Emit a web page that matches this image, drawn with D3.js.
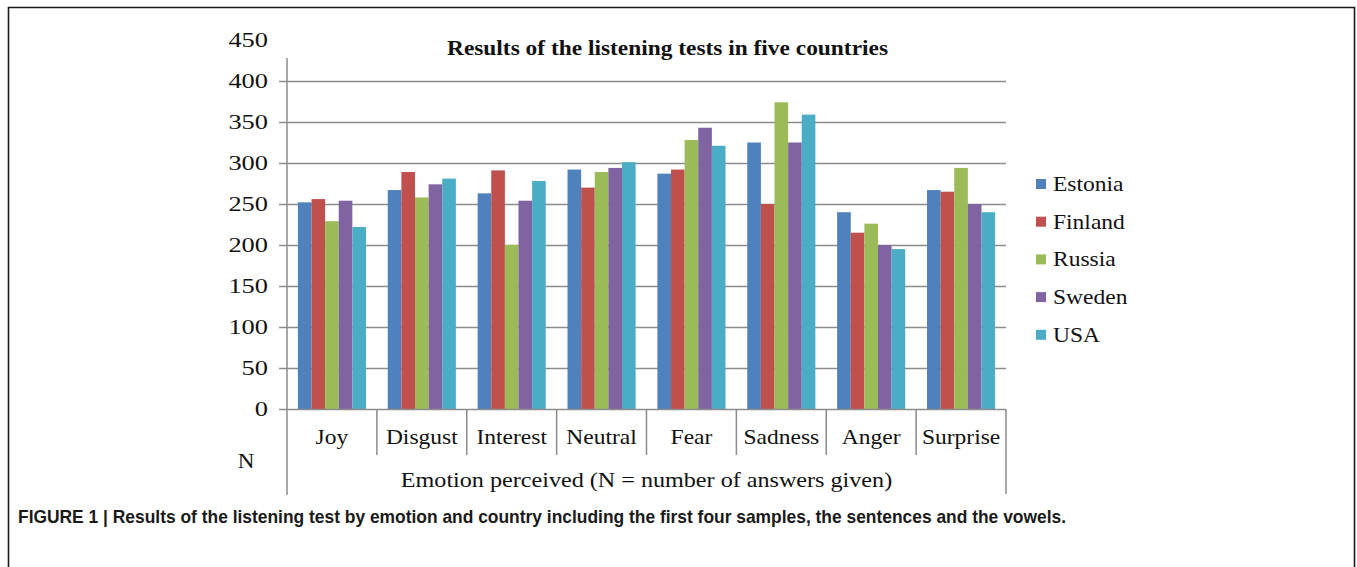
<!DOCTYPE html>
<html>
<head>
<meta charset="utf-8">
<script src="https://cdn.jsdelivr.net/npm/d3@7/dist/d3.min.js"></script>
<style>
  html, body { margin: 0; padding: 0; background: #fff; }
  svg { display: block; }
</style>
</head>
<body>
<svg id="chart" width="1357" height="567"></svg>
<script>
// Emotion categories on the x axis
const emotions = ["Joy", "Disgust", "Interest", "Neutral", "Fear", "Sadness", "Anger", "Surprise"];
// Countries (series)
const countries = ["Estonia", "Finland", "Russia", "Sweden", "USA"];
const countryColors = ["#4F81BD", "#C0504D", "#9BBB59", "#8064A2", "#4BACC6"];
// Number of answers per emotion, one array per country
const estonia = [252, 267, 263, 292, 287, 325, 240, 267];
const finland = [256, 289, 291, 270, 292, 250, 215, 265];
const russia  = [229, 258, 200, 289, 328, 374, 226, 294];
const sweden  = [254, 274, 254, 294, 343, 325, 200, 250];
const usa     = [222, 281, 278, 301, 321, 359, 195, 240];
const seriesValues = [estonia, finland, russia, sweden, usa];
// Value axis ticks
const yTicks = [0, 50, 100, 150, 200, 250, 300, 350, 400, 450];

const svg = d3.select("#chart");
const serif = "'Liberation Serif', 'Times New Roman', serif";
const axisGrey = "#8c8c8c";

// Serif label, slightly widened horizontally like the original chart's type
function label(parent, x, y, text, opts = {}) {
  return parent.append("text")
    .attr("transform", `translate(${x},${y}) scale(${opts.sx || 1.12},1)`)
    .attr("text-anchor", opts.anchor || "middle")
    .attr("font-family", serif)
    .attr("font-size", opts.size || 21)
    .attr("fill", "#111")
    .text(text);
}

// Figure frame (open at the bottom)
svg.append("path")
  .attr("d", "M8.5,567 L8.5,7.5 L1354.5,7.5 L1354.5,567")
  .attr("fill", "none").attr("stroke", "#1a1a1a").attr("stroke-width", 1.6);

const left = 287, right = 1006, bottom = 409;
const x = d3.scaleBand().domain(emotions).range([left, right]).paddingInner(0).paddingOuter(0);
const y = d3.scaleLinear().domain([0, 400]).range([bottom, 81]);
const xs = d3.scaleBand().domain(countries).range([0, x.bandwidth()]).paddingInner(0).paddingOuter(0.8);

// Horizontal gridlines
svg.append("g").selectAll("line").data(yTicks.filter(t => t > 0 && t <= 400)).join("line")
  .attr("x1", left).attr("x2", right)
  .attr("y1", d => Math.round(y(d)) + 0.5).attr("y2", d => Math.round(y(d)) + 0.5)
  .attr("stroke", axisGrey).attr("stroke-width", 1.5);

// Bars
const groups = svg.append("g").selectAll("g").data(emotions).join("g")
  .attr("transform", d => `translate(${x(d)},0)`);
groups.selectAll("rect")
  .data((e, i) => countries.map((c, k) => ({ c, k, v: seriesValues[k][i] })))
  .join("rect")
  .attr("x", d => xs(d.c))
  .attr("width", xs.bandwidth())
  .attr("y", d => y(d.v))
  .attr("height", d => y(0) - y(d.v))
  .attr("fill", d => countryColors[d.k]);

// Value axis: ticks and labels (450 sits above the plotted range)
const yFull = d3.scaleLinear().domain([0, 450]).range([bottom, bottom - 450 * (bottom - 81) / 400]);
const yAxisG = svg.append("g");
yAxisG.selectAll("line").data(yTicks.filter(t => t <= 400)).join("line")
  .attr("x1", left - 8).attr("x2", left)
  .attr("y1", d => Math.round(yFull(d)) + 0.5).attr("y2", d => Math.round(yFull(d)) + 0.5)
  .attr("stroke", axisGrey).attr("stroke-width", 1.5);
yTicks.forEach(t => {
  label(yAxisG, 268, yFull(t) + 7, d3.format("d")(t), { anchor: "end", size: 22, sx: 1.2 });
});
svg.append("line").attr("x1", left).attr("x2", left).attr("y1", 58).attr("y2", 495)
  .attr("stroke", axisGrey).attr("stroke-width", 1.5);

// Category axis
svg.append("line").attr("x1", left).attr("x2", right).attr("y1", bottom + 0.5).attr("y2", bottom + 0.5)
  .attr("stroke", axisGrey).attr("stroke-width", 1.5);
svg.append("g").selectAll("line").data(emotions.slice(1)).join("line")
  .attr("x1", d => x(d)).attr("x2", d => x(d))
  .attr("y1", bottom).attr("y2", 455)
  .attr("stroke", axisGrey).attr("stroke-width", 1.5);
svg.append("line").attr("x1", right).attr("x2", right).attr("y1", bottom).attr("y2", 494)
  .attr("stroke", axisGrey).attr("stroke-width", 1.5);
const catG = svg.append("g");
emotions.forEach(e => label(catG, x(e) + x.bandwidth() / 2, 444, e));

label(svg, 246, 468, "N", { sx: 1.1 });
label(svg, (left + right) / 2, 487, "Emotion perceived (N = number of answers given)", { sx: 1.15 });

// Chart title
svg.append("text").attr("x", 447).attr("y", 55)
  .attr("font-family", serif).attr("font-size", 21).attr("font-weight", "bold").attr("fill", "#111")
  .attr("textLength", 441).attr("lengthAdjust", "spacingAndGlyphs")
  .text("Results of the listening tests in five countries");

// Legend
const legend = svg.append("g").selectAll("g").data(countries).join("g")
  .attr("transform", (d, i) => `translate(1036,${184 + i * 37.7})`);
legend.append("rect").attr("x", 0).attr("y", -5).attr("width", 10).attr("height", 10)
  .attr("fill", (d, i) => countryColors[i]);
legend.each(function (d) {
  label(d3.select(this), 17, 7, d, { anchor: "start", sx: 1.12 });
});

// Figure caption
svg.append("text").attr("x", 18).attr("y", 523)
  .attr("font-family", "'Liberation Sans Narrow', 'Liberation Sans', Arial, sans-serif")
  .attr("font-size", 19).attr("font-weight", "bold").attr("fill", "#1a1a1a")
  .attr("textLength", 1048).attr("lengthAdjust", "spacingAndGlyphs")
  .text("FIGURE 1 | Results of the listening test by emotion and country including the first four samples, the sentences and the vowels.");
</script>
</body>
</html>
